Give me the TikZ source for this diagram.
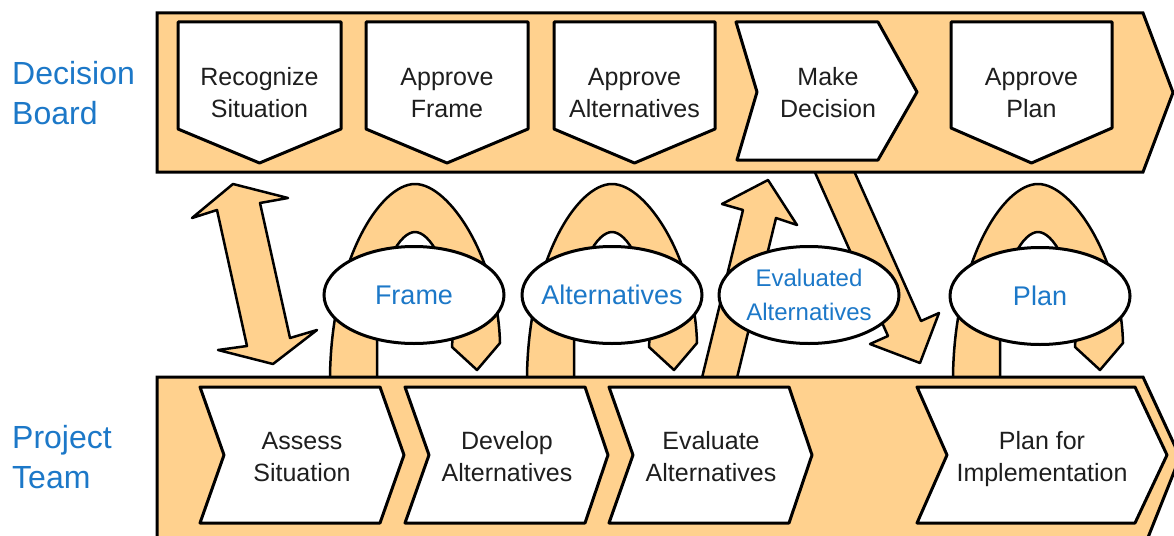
\documentclass[tikz,border=0pt]{standalone}
\usepackage{fontspec}
\setmainfont{Liberation Sans}
\usetikzlibrary{shapes.geometric}
\definecolor{orangefill}{RGB}{255,209,142}
\definecolor{labelblue}{RGB}{28,120,200}
\definecolor{boxtext}{RGB}{30,30,30}
\tikzset{
  band/.style={draw=black,line width=3pt,fill=orangefill,line join=miter},
  stepbox/.style={draw=black,line width=3pt,fill=white,line join=round},
  flowarrow/.style={draw=black,line width=2.5pt,fill=orangefill,line join=round},
  bubble/.style={ellipse,draw=black,line width=3pt,fill=white,minimum width=180pt,minimum height=97pt,inner sep=0pt},
  bubbletext/.style={text=labelblue,font=\fontsize{27}{33}\selectfont,align=center,inner sep=0pt},
  steptext/.style={text=boxtext,font=\fontsize{25}{32}\selectfont,align=center,inner sep=0pt},
  lanelabel/.style={text=labelblue,font=\fontsize{32}{40}\selectfont,align=left,inner sep=0pt,anchor=west},
  archloop/.pic={
    \path[flowarrow] (-85,392) -- (-85,375)
      .. controls (-83,260) and (-35,184) .. (0,184)
      .. controls (35,184) and (83,260) .. (85,343)
      -- (62,370) -- (37,347) -- (38,330)
      .. controls (36,262) and (14,232) .. (0,232)
      .. controls (-14,232) and (-36,262) .. (-38,330)
      -- (-38,392) -- cycle;
  }
}
\begin{document}
\begin{tikzpicture}[x=1pt,y=-1pt]
\useasboundingbox (0,0) rectangle (1174,535);
\begin{scope}
\clip (0,0) rectangle (1174,535);
\fill[white] (0,0) rectangle (1174,535);

% lane labels
\node[lanelabel] (board) at (12,93) {Decision\\Board};
\node[lanelabel] (team) at (12,457) {Project\\Team};

% double arrow between lanes
\path[flowarrow] (233,184) -- (288,198) -- (260,203) -- (290,338) -- (317,330)
  -- (273,364) -- (218,350) -- (247,346) -- (217,210) -- (192,218) -- cycle;

% loop arrows
\pic (archframe) at (415,0) {archloop};
\pic (archalt) at (612,0) {archloop};
\pic (archplan) at (1038,0) {archloop};

% up arrow to Make Decision
\path[flowarrow] (768,180) -- (797,225) -- (776,218) -- (734,390) -- (699,390)
  -- (743,210) -- (722,204) -- cycle;

% down arrow from Make Decision
\path[flowarrow] (846,153) -- (921,321) -- (939,313) -- (920,363) -- (870,344)
  -- (888,336) -- (813,168) -- cycle;

% lanes
\path[band] (157,13) -- (1143,13) -- (1173,92.5) -- (1143,172) -- (157,172) -- cycle;
\path[band] (157,377) -- (1143,377) -- (1180,457) -- (1143,550) -- (157,550) -- cycle;

% decision board steps
\path[stepbox] (178,22) -- (341,22) -- (341,129) -- (259.5,163) -- (178,129) -- cycle;
\path[stepbox] (366,22) -- (528,22) -- (528,129) -- (447,163) -- (366,129) -- cycle;
\path[stepbox] (554,22) -- (715,22) -- (715,129) -- (634.5,163) -- (554,129) -- cycle;
\path[stepbox] (736,22) -- (878,22) -- (917,92) -- (878,160) -- (737,160) -- (757,92) -- cycle;
\path[stepbox] (951,22) -- (1112,22) -- (1112,128) -- (1031.5,163) -- (951,128) -- cycle;

\node[steptext] (recog) at (259.5,93) {Recognize\\Situation};
\node[steptext] (apframe) at (447,93) {Approve\\Frame};
\node[steptext] (apalt) at (634.5,93) {Approve\\Alternatives};
\node[steptext] (decide) at (828,93) {Make\\Decision};
\node[steptext] (applan) at (1031.5,93) {Approve\\Plan};

% project team steps
\path[stepbox] (200,387) -- (380,387) -- (404,455) -- (380,523) -- (200,523) -- (224,455) -- cycle;
\path[stepbox] (405,387) -- (585,387) -- (608,455) -- (585,523) -- (405,523) -- (429,455) -- cycle;
\path[stepbox] (609,387) -- (789,387) -- (812,455) -- (789,523) -- (609,523) -- (633,455) -- cycle;
\path[stepbox] (917,387) -- (1135,387) -- (1167,455) -- (1135,523) -- (917,523) -- (947,455) -- cycle;

\node[steptext] (assess) at (302,457) {Assess\\Situation};
\node[steptext] (develop) at (507,457) {Develop\\Alternatives};
\node[steptext] (evaluate) at (711,457) {Evaluate\\Alternatives};
\node[steptext] (implement) at (1042,459.5) {Plan for\\Implementation};

% deliverables
\node[bubble] (frameb) at (414,295) {};
\node[bubble] (altb) at (612,295) {};
\node[bubble] (evalb) at (809,295) {};
\node[bubble] (planb) at (1040,296) {};
\node[bubbletext] (framet) at (frameb.center) {Frame};
\node[bubbletext] (altt) at (altb.center) {Alternatives};
\node[bubbletext,font=\fontsize{24}{34}\selectfont] (evalt) at (evalb.center) {Evaluated\\Alternatives};
\node[bubbletext] (plant) at (planb.center) {Plan};
\end{scope}
\end{tikzpicture}
\end{document}
